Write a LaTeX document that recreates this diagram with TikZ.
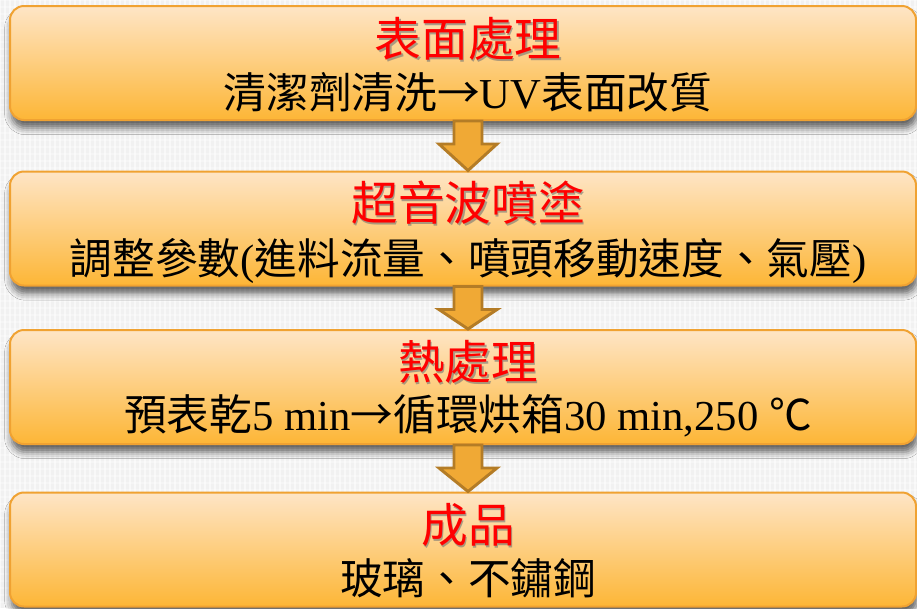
\documentclass[tikz,border=0pt]{standalone}
\usepackage{fontspec}
\setmainfont{Liberation Serif}
\newfontfamily\cjk{Noto Sans CJK TC}
\newfontfamily\lat{Liberation Serif}
\usetikzlibrary{calc,shadows.blur}
\definecolor{bgcol}{HTML}{F1F1F1}
\definecolor{boxtop}{HTML}{FEE5C6}
\definecolor{boxbot}{HTML}{FDB636}
\definecolor{boxline}{HTML}{F0A232}
\definecolor{arrfill}{HTML}{F0A935}
\definecolor{arrline}{HTML}{B47C26}
\definecolor{titlered}{HTML}{FF0000}
\tikzset{
  stepbox/.style={rectangle, rounded corners=10.5pt, minimum width=679.5pt,
    minimum height=85.5pt, draw=boxline, line width=1.5pt,
    top color=boxtop, bottom color=boxbot, inner sep=0pt,
    blur shadow={shadow xshift=1pt, shadow yshift=-6pt, shadow blur radius=5pt, shadow opacity=60}},
  titletext/.style={inner sep=0pt, text=titlered, font=\cjk\fontsize{35}{40}\selectfont},
  titleshadow/.style={inner sep=0pt, text=black!55, opacity=0.6, font=\cjk\fontsize{35}{40}\selectfont},
  subtext/.style={inner sep=0pt, text=black, font=\cjk\fontsize{32}{38}\selectfont},
  blockarrow/.style={fill=arrfill, draw=arrline, line width=2.2pt, line join=miter}
}
\newcommand\mytitle[3]{%
  \node[titleshadow] (#1s) at ($(#2)+(1.6,1.6)$) {#3};
  \node[titletext] (#1) at (#2) {#3};}
\newcommand\flowarrow[2]{%
  \path (#1.south -| axis) coordinate (ta) (#2.north -| axis) coordinate (tb);
  \draw[blockarrow] ($(ta)+(-14,0)$) -- ($(ta)+(14,0)$) -- ($(ta)+(14,23)$)
    -- ($(ta)+(29,23)$) -- (tb) -- ($(ta)+(-29,23)$) -- ($(ta)+(-14,23)$) -- cycle;}
\begin{document}
\begin{tikzpicture}[x=0.75pt,y=-0.75pt]
\useasboundingbox (0,0) rectangle (917,608);
\clip (0,0) rectangle (917,608);
\fill[bgcol] (0,0) rectangle (917,608);
\foreach \i in {0,5,...,917} {\draw[white, opacity=0.55, line width=1.2pt] (\i,0) -- (\i,608);}
\foreach \j in {0,7,...,608} {\draw[white, opacity=0.35, line width=0.8pt] (0,\j) -- (917,\j);}
\coordinate (axis) at (468,0);
\node[stepbox] (b1) at (463,63) {};
\node[stepbox] (b2) at (463,228.5) {};
\node[stepbox] (b3) at (463,387) {};
\node[stepbox] (b4) at (463,549.5) {};
\coordinate (p1) at (468,39);
\coordinate (p2) at (468,203);
\coordinate (p3) at (468,362);
\coordinate (p4) at (468,525);
\mytitle{t1}{p1}{表面處理}
\mytitle{t2}{p2}{超音波噴塗}
\mytitle{t3}{p3}{熱處理}
\mytitle{t4}{p4}{成品}
\node[subtext] (s1) at (468,92) {清潔劑清洗→{\lat UV}表面改質};
\node[subtext] (s2) at (468,261) {調整參數{\lat (}進料流量、噴頭移動速度、氣壓{\lat )}};
\node[subtext] (s3) at (468,416) {預表乾{\lat 5 min}→循環烘箱{\lat 30 min,250 }℃};
\node[subtext] (s4) at (468,578) {玻璃、不鏽鋼};
\flowarrow{b1}{b2}
\flowarrow{b2}{b3}
\flowarrow{b3}{b4}
\end{tikzpicture}
\end{document}
